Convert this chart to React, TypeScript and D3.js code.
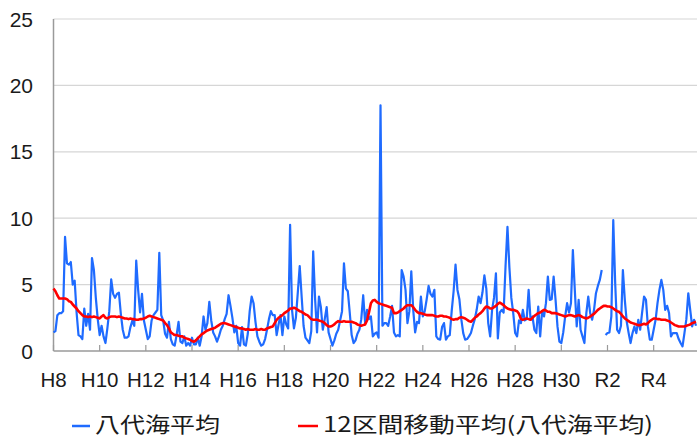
import React from "react";
import * as d3 from "d3";

// Monthly values starting H8 (index 0); null = missing month
const monthlyValues: (number | null)[] = [
  1.4, 1.5, 2.7, 2.85, 2.85, 3.0, 8.6, 6.6, 6.5, 6.7, 5.0, 5.3,
  2.9, 1.2, 1.1, 0.9, 3.2, 1.9, 2.8, 1.6, 7.0, 6.1, 4.0, 2.4,
  1.2, 1.9, 1.1, 0.6, 1.7, 3.0, 5.4, 4.3, 4.0, 4.3, 4.4, 2.8,
  1.6, 1.0, 1.0, 1.1, 1.8, 2.3, 1.9, 6.8, 4.6, 2.9, 4.3, 2.3,
  1.6, 0.9, 1.1, 2.3, 2.7, 2.9, 3.1, 7.4, 2.7, 2.3, 1.3, 1.0,
  2.2, 0.9, 0.5, 0.4, 1.2, 2.2, 0.7, 0.6, 1.1, 0.4, 0.6, 0.4,
  1.0, 0.5, 0.5, 1.0, 0.4, 1.1, 2.6, 1.6, 2.1, 3.7, 2.3, 1.4,
  1.1, 0.7, 1.1, 1.6, 1.9, 2.4, 2.8, 4.2, 3.4, 2.5, 1.4, 1.9,
  0.6, 0.4, 1.8, 0.5, 0.4, 1.3, 3.0, 4.1, 3.6, 2.2, 1.1, 0.7,
  0.4, 0.5, 0.9, 1.6, 2.4, 3.0, 2.7, 2.7, 1.2, 2.0, 2.7, 1.2,
  2.6, 2.0, 1.7, 9.5, 3.1, 1.7, 2.5, 4.4, 6.4, 4.1, 1.9, 1.0,
  0.8, 0.6, 1.5, 7.5, 3.9, 1.4, 4.1, 3.3, 1.6, 2.4, 3.3, 1.4,
  0.9, 0.4, 0.8, 1.3, 1.6, 2.3, 3.0, 6.6, 4.7, 4.5, 2.9, 1.2,
  0.6, 0.8, 1.3, 1.6, 2.4, 4.2, 2.1, 3.1, 2.4, 2.6, 1.1, 1.3,
  1.4, 1.0, 18.5, 1.9, 2.1, 2.1, 1.9, 2.6, 3.4, 1.4, 1.1, 1.2,
  1.1, 6.1, 5.6, 4.6, 2.1, 3.0, 6.0, 3.1, 1.4, 2.2, 2.1, 4.1,
  2.6, 3.0, 3.9, 4.9, 4.3, 4.1, 4.6, 1.1, 0.9, 0.85, 1.8, 2.1,
  0.85, 1.1, 1.2, 3.0, 4.5, 6.5, 4.6, 3.9, 2.4, 1.35, 0.85, 0.9,
  1.1, 1.35, 1.9, 2.4, 3.1, 4.1, 3.6, 4.4, 5.7, 4.7, 2.1, 1.1,
  3.1, 4.0, 5.85, 0.95, 2.9, 3.1, 2.9, 6.4, 9.35, 6.3, 4.0, 2.85,
  1.35, 1.1, 2.3, 2.1, 3.1, 2.3, 2.4, 4.6, 2.35, 2.6, 1.6, 1.35,
  3.35, 1.1, 3.0, 2.6, 3.6, 5.6, 3.85, 3.9, 5.6, 3.85, 1.85, 0.7,
  0.6, 1.4, 2.6, 3.6, 2.9, 3.6, 7.6, 4.6, 1.85, 3.85, 1.6, 1.1,
  0.6, 2.85, 4.1, 2.85, 2.35, 3.1, 4.35, 4.9, 5.35, 6.1, null, 1.2,
  1.35, 1.4, 2.6, 9.85, 5.1, 1.6, 1.35, 1.9, 6.1, 3.85, 2.2, 1.35,
  0.6, 1.35, 1.85, 1.35, 2.35, 1.6, 2.9, 4.1, 3.85, 1.85, 0.85, 0.85,
  1.6, 2.35, 3.6, 4.6, 5.35, 4.6, 3.1, 3.4, 2.85, 1.1, 1.35, 1.35,
  1.35, 0.9, 0.6, 0.35, 1.35, 2.4, 4.35, 3.1, 1.85, 2.35, 1.9,
];

const movingAverage: number[] = [
  4.7, 4.5, 4.2, 3.95, 3.95, 3.95, 3.95, 3.9, 3.75, 3.7, 3.5, 3.35,
  3.2, 3.0, 2.85, 2.7, 2.6, 2.6, 2.55, 2.6, 2.55, 2.6, 2.55, 2.5,
  2.45, 2.6, 2.7, 2.5, 2.45, 2.55, 2.6, 2.6, 2.6, 2.55, 2.6, 2.55,
  2.5, 2.45, 2.45, 2.4, 2.45, 2.4, 2.4, 2.35, 2.35, 2.4, 2.4, 2.45,
  2.5, 2.6, 2.65, 2.6, 2.55, 2.5, 2.45, 2.4, 2.35, 2.3, 2.1, 1.95,
  1.7, 1.4, 1.3, 1.2, 1.2, 1.15, 1.1, 1.1, 1.0, 0.95, 0.9, 0.85,
  0.75, 0.7, 0.8, 0.95, 1.1, 1.25, 1.35, 1.45, 1.55, 1.6, 1.65, 1.7,
  1.75, 1.85, 1.95, 2.05, 2.1, 2.1, 2.05, 2.0, 1.95, 1.9, 1.85, 1.8,
  1.75, 1.7, 1.7, 1.65, 1.6, 1.65, 1.6, 1.6, 1.6, 1.65, 1.6, 1.6,
  1.65, 1.6, 1.6, 1.7, 1.75, 1.8, 1.85, 2.1, 2.35, 2.5, 2.6, 2.7,
  2.85, 2.95, 3.05, 3.2, 3.2, 3.25, 3.2, 3.1, 3.0, 2.95, 2.85, 2.75,
  2.7, 2.55, 2.4, 2.35, 2.35, 2.35, 2.3, 2.25, 2.2, 2.1, 1.95, 1.85,
  1.85, 1.9, 2.0, 2.15, 2.25, 2.2, 2.2, 2.25, 2.2, 2.2, 2.2, 2.2,
  2.15, 2.1, 2.0, 1.95, 1.9, 1.95, 2.0, 2.3, 2.9, 3.6, 3.8, 3.85,
  3.7, 3.6, 3.55, 3.5, 3.45, 3.4, 3.35, 3.3, 3.25, 2.85, 2.85, 2.9,
  3.0, 3.1, 3.2, 3.35, 3.45, 3.45, 3.45, 3.3, 3.1, 2.95, 2.85, 2.85,
  2.8, 2.75, 2.7, 2.7, 2.7, 2.7, 2.65, 2.6, 2.6, 2.65, 2.65, 2.6,
  2.6, 2.55, 2.5, 2.4, 2.35, 2.4, 2.4, 2.5, 2.55, 2.5, 2.45, 2.35,
  2.25, 2.2, 2.35, 2.5, 2.6, 2.75, 2.85, 3.0, 3.2, 3.35, 3.3, 3.2,
  3.2, 3.3, 3.4, 3.55, 3.65, 3.55, 3.45, 3.3, 3.2, 3.15, 3.1, 3.1,
  3.05, 3.0, 2.8, 2.4, 2.35, 2.4, 2.45, 2.4, 2.35, 2.5, 2.65, 2.75,
  2.85, 2.9, 3.0, 3.1, 3.05, 2.95, 2.95, 2.85, 2.85, 2.85, 2.8, 2.75,
  2.7, 2.65, 2.6, 2.65, 2.7, 2.7, 2.65, 2.6, 2.65, 2.7, 2.65, 2.55,
  2.5, 2.45, 2.5, 2.6, 2.7, 2.8, 2.95, 3.1, 3.2, 3.3, 3.4, 3.4,
  3.35, 3.35, 3.3, 3.2, 3.1, 3.0, 2.95, 2.8, 2.6, 2.45, 2.35, 2.25,
  2.15, 2.1, 2.05, 2.0, 1.95, 1.95, 2.0, 2.05, 2.0, 2.1, 2.25, 2.35,
  2.45, 2.45, 2.4, 2.4, 2.35, 2.35, 2.35, 2.3, 2.25, 2.15, 2.05, 1.95,
  1.9, 1.85, 1.85, 1.85, 1.85, 1.9, 1.95, 2.0, 2.1, 2.15, 2.2,
];

const xTickLabels = ["H8", "H10", "H12", "H14", "H16", "H18", "H20", "H22", "H24", "H26", "H28", "H30", "R2", "R4"];
const yTicks = [0, 5, 10, 15, 20, 25];
const seriesNames = ["八代海平均", "12区間移動平均(八代海平均)"];

const W = 697;
const H = 437;
const left = 53.5;
const top = 19;
const bottom = 351;
const right = 697;
const monthsPerTick = 24;
const pxPerMonth = 1.9236;

export default function App() {
  const n = monthlyValues.length;
  const x = d3.scaleLinear().domain([0, n - 1]).range([left, left + (n - 1) * pxPerMonth]);
  const y = d3.scaleLinear().domain([0, 25]).range([bottom, top]);

  const blueLine = d3
    .line<number | null>()
    .defined((d) => d != null)
    .x((_, i) => x(i))
    .y((d) => y(d as number));
  const redLine = d3
    .line<number>()
    .x((_, i) => x(i))
    .y((d) => y(d));

  const blue = "#1f6bff";
  const red = "#ff0000";
  const numFont = "'Liberation Sans', Arial, sans-serif";
  const cjkFont = "'Noto Sans CJK JP', sans-serif";

  return (
    <svg
      width={W}
      height={H}
      style={{ position: "absolute", left: 0, top: 0, background: "#fff" }}
    >
      {/* grid */}
      {yTicks.map((t) => (
        <g key={t}>
          {t > 0 && (
            <line x1={left} x2={right} y1={y(t)} y2={y(t)} stroke="#d6d6d6" strokeWidth={1.2} />
          )}
          <text
            x={33}
            y={y(t) + 7.5}
            textAnchor="end"
            fontFamily={numFont}
            fontSize={21}
            fill="#1a1a1a"
          >
            {t}
          </text>
        </g>
      ))}
      {/* axes */}
      <line x1={left} x2={left} y1={top} y2={bottom} stroke="#9a9a9a" strokeWidth={1.5} />
      <line x1={left} x2={right} y1={bottom} y2={bottom} stroke="#9a9a9a" strokeWidth={1.5} />
      {xTickLabels.map((lab, k) => {
        const xx = x(k * monthsPerTick);
        return (
          <g key={lab}>
            <line x1={xx} x2={xx} y1={bottom - 6} y2={bottom} stroke="#9a9a9a" strokeWidth={1.2} />
            <text
              x={xx}
              y={387}
              textAnchor="middle"
              fontFamily={numFont}
              fontSize={20.5}
              fill="#1a1a1a"
            >
              {lab}
            </text>
          </g>
        );
      })}
      {/* series */}
      <path d={blueLine(monthlyValues) || ""} fill="none" stroke={blue} strokeWidth={2.2} strokeLinejoin="round" />
      <path d={redLine(movingAverage) || ""} fill="none" stroke={red} strokeWidth={2.6} strokeLinejoin="round" />
      {/* legend */}
      <line x1={72} x2={90} y1={426} y2={426} stroke={blue} strokeWidth={2.5} />
      <text
        x={95}
        y={432}
        fontFamily={cjkFont}
        fontSize={21}
        fill="#1a1a1a"
        textLength={125}
        lengthAdjust="spacingAndGlyphs"
      >
        {seriesNames[0]}
      </text>
      <line x1={298} x2={318} y1={426} y2={426} stroke={red} strokeWidth={2.5} />
      <text
        x={323}
        y={432}
        fontFamily={cjkFont}
        fontSize={21}
        fill="#1a1a1a"
        textLength={330}
        lengthAdjust="spacingAndGlyphs"
      >
        {seriesNames[1]}
      </text>
    </svg>
  );
}
